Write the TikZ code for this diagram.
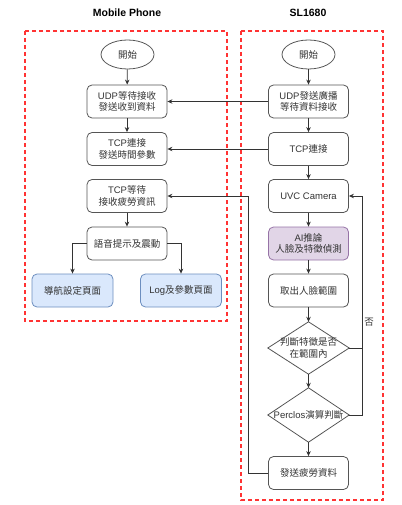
\documentclass[tikz,border=0pt]{standalone}
\usepackage{fontspec}
\setmainfont{Noto Sans CJK TC}
\newfontfamily\lat{Liberation Sans}
\usetikzlibrary{arrows.meta,shapes.geometric}
\definecolor{dred}{HTML}{FF3333}
\definecolor{bfill}{HTML}{DAE8FC}
\definecolor{bline}{HTML}{6C8EBF}
\definecolor{pfill}{HTML}{E1D5E7}
\definecolor{pline}{HTML}{9673A6}
\definecolor{txt}{HTML}{333333}
\definecolor{edge}{HTML}{555555}
\tikzset{
  base/.style={font=\fontsize{9.5}{11.5}\selectfont, text=txt, align=center, inner sep=1pt},
  proc/.style={base, draw=edge, line width=0.8pt, rounded corners=5pt, minimum width=80pt, minimum height=33pt, fill=white},
  bluebox/.style={proc, fill=bfill, draw=bline, minimum width=81pt},
  purplebox/.style={proc, fill=pfill, draw=pline},
  startnode/.style={base, ellipse, draw=edge, line width=0.8pt, minimum width=53pt, minimum height=29pt},
  decbox/.style={base, minimum width=81pt, minimum height=52pt},
  arr/.style={draw=txt, line width=0.8pt, -{Stealth[length=5pt,width=4.5pt]}},
  plain/.style={draw=txt, line width=0.8pt},
  region/.style={draw=dred, line width=1.3pt, dash pattern=on 4pt off 3pt},
  title/.style={font=\lat\bfseries\fontsize{10.5}{12}\selectfont, text=black}
}
\begin{document}
\begin{tikzpicture}[x=1pt,y=-1pt]
\useasboundingbox (0,0) rectangle (401,505);
% regions
\draw[region] (25,31) rectangle (227,321);
\draw[region] (241,31) rectangle (383,500);
\node[title] (t1) at (127,13) {Mobile Phone};
\node[title] (t2) at (308,13) {SL1680};
% left column
\node[startnode] (ls) at (127.5,54.5) {開始};
\node[proc] (lu) at (127,101.5) {{\lat UDP}等待接收\\發送收到資料};
\node[proc] (lt) at (127,149) {{\lat TCP}連接\\發送時間參數};
\node[proc] (lw) at (127,196) {{\lat TCP}等待\\接收疲勞資訊};
\node[proc] (lv) at (127,243.5) {語音提示及震動};
\node[bluebox] (ln) at (72.5,290.5) {導航設定頁面};
\node[bluebox] (ll) at (181,290.5) {{\lat Log}及參數頁面};
% right column
\node[startnode] (rs) at (308.5,54.5) {開始};
\node[proc] (ru) at (308.5,101.5) {{\lat UDP}發送廣播\\等待資料接收};
\node[proc] (rt) at (308.5,149) {{\lat TCP}連接};
\node[proc] (rc) at (308.5,196) {{\lat UVC Camera}};
\node[purplebox] (ra) at (308.5,243.5) {{\lat AI}推論\\人臉及特徵偵測};
\node[proc] (rf) at (308.5,290.5) {取出人臉範圍};
\node[decbox] (d1) at (308.5,348) {};
\node[decbox, minimum height=54pt] (d2) at (308.5,415) {};
\draw[edge, line width=0.8pt, fill=white] (d1.west) -- (d1.north) -- (d1.east) -- (d1.south) -- cycle;
\draw[edge, line width=0.8pt, fill=white] (d2.west) -- (d2.north) -- (d2.east) -- (d2.south) -- cycle;
\node[base] (d1t) at (d1.center) {判斷特徵是否\\在範圍內};
\node[base] (d2t) at (d2.center) {{\lat Perclos}演算判斷};
\node[proc] (rsend) at (308.5,473) {發送疲勞資料};
% left arrows
\draw[arr] (ls) -- (lu);
\draw[arr] (lu) -- (lt);
\draw[arr] (lw) -- (lv);
\draw[arr] (lv.west) -| (ln.north);
\draw[arr] (lv.east) -| (ll.north);
% right arrows
\draw[arr] (rs) -- (ru);
\draw[arr] (ru) -- (rt);
\draw[arr] (rt) -- (rc);
\draw[arr] (rc) -- (ra);
\draw[arr] (ra) -- (rf);
\draw[arr] (rf) -- (d1.north);
\draw[arr] (d1.south) -- (d2.north);
\draw[arr] (d2.south) -- (rsend);
% cross arrows
\draw[arr] (ru.west) -- (lu.east);
\draw[arr] (rt.west) -- (lt.east);
\draw[arr] (rsend.west) -- ++(-20,0) |- (lw.east);
% loop
\draw[plain] (d1.east) -- ++(13.5,0);
\draw[arr] (d2.east) -- ++(13.5,0) |- (rc.east);
\node[base] (no) at (369,322) {否};
\end{tikzpicture}
\end{document}
